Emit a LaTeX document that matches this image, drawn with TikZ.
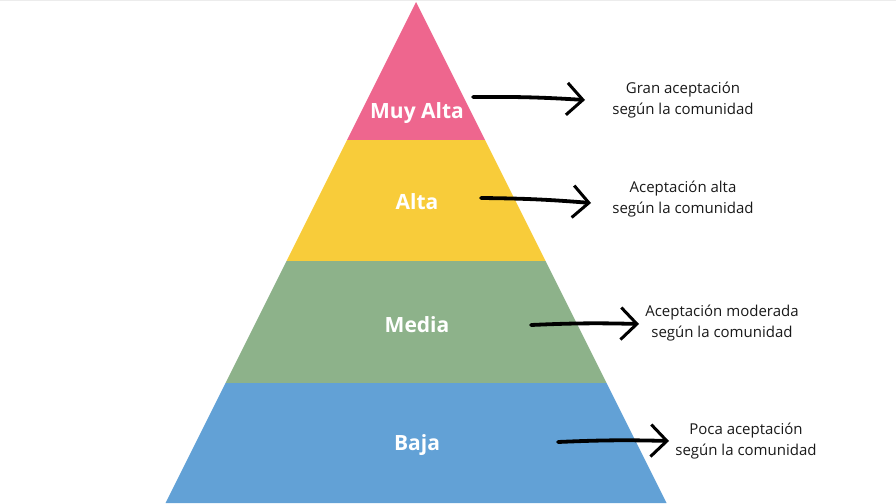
\documentclass[tikz,border=0pt]{standalone}
\usepackage{fontspec}
\setmainfont{Open Sans}
\usetikzlibrary{arrows.meta}

\definecolor{levelpink}{RGB}{238,102,142}
\definecolor{levelyellow}{RGB}{248,204,58}
\definecolor{levelgreen}{RGB}{141,178,138}
\definecolor{levelblue}{RGB}{98,161,214}

\begin{document}
\begin{tikzpicture}[
  x=1pt, y=-1pt,
  level/.style={font=\fontsize{21}{25}\selectfont\bfseries, text=white, inner sep=0pt},
  note/.style={font=\fontsize{15}{21}\selectfont, align=center, text=black!90, inner sep=0pt},
  brush/.style={line width=3.8pt, line cap=round, -{Straight Barb[length=16pt, width=32pt, line width=3pt]}}
]
\useasboundingbox (0,0) rectangle (896,503);
\draw[gray!15, line width=1.5pt] (0,0.75) -- (896,0.75);

% pyramid bands, top to bottom
\fill[levelpink] (416,2) -- (485,140) -- (347,140) -- cycle;
\fill[levelyellow] (347,140) -- (485,140) -- (545.5,261) -- (286.5,261) -- cycle;
\fill[levelgreen] (286.5,261) -- (545.5,261) -- (606.5,383) -- (225.5,383) -- cycle;
\fill[levelblue] (225.5,383) -- (606.5,383) -- (666.5,503) -- (165.5,503) -- cycle;

\node[level] (muyalta) at (417,113) {Muy Alta};
\node[level] (alta) at (417,202) {Alta};
\node[level] (media) at (417,325) {Media};
\node[level] (baja) at (417,445) {Baja};

\node[note] (gran) at (683,100) {Gran aceptación\\según la comunidad};
\node[note] (altanote) at (683,199) {Aceptación alta\\según la comunidad};
\node[note] (moderada) at (722,323) {Aceptación moderada\\según la comunidad};
\node[note] (poca) at (746,441) {Poca aceptación\\según la comunidad};

% arrows from the bands to the notes
\coordinate (s1) at (473,97);
\coordinate (e1) at (585,100);
\coordinate (s2) at (481,198);
\coordinate (e2) at (591,203);
\coordinate (s3) at (531,325);
\coordinate (e3) at (639,324);
\coordinate (s4) at (558,442);
\coordinate (e4) at (669,441);

\draw[brush] (s1) to[bend left=2] (e1);
\draw[brush] (s2) to[bend left=2] (e2);
\draw[brush] (s3) to[bend left=2] (e3);
\draw[brush] (s4) to[bend left=2] (e4);

\end{tikzpicture}
\end{document}
